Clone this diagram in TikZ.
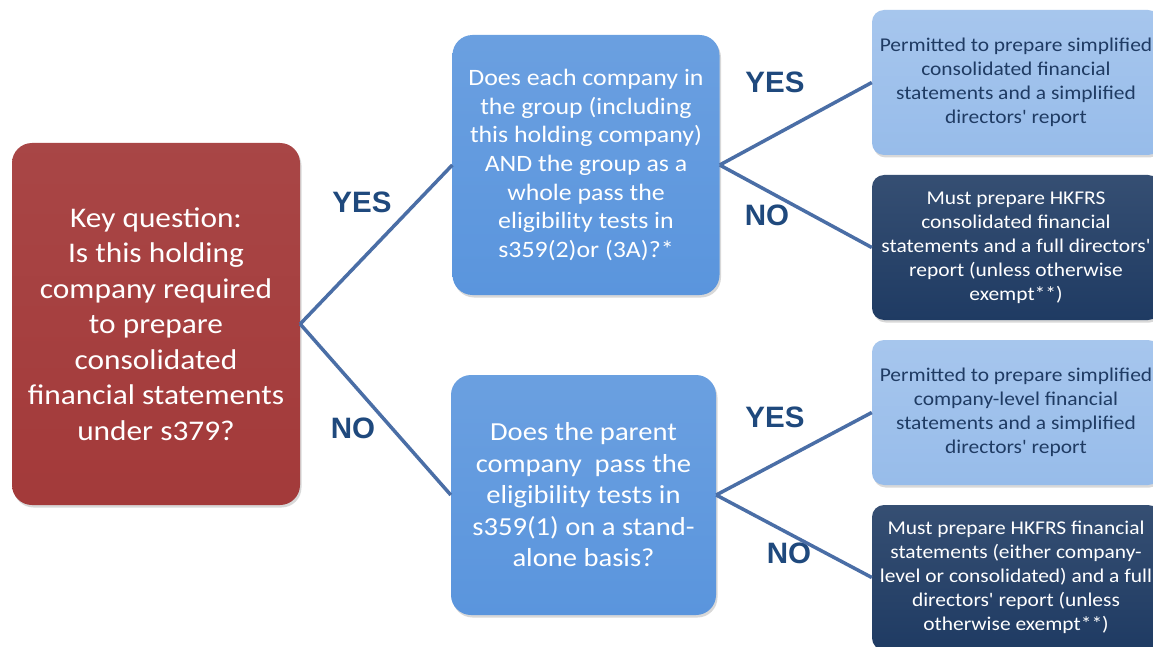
\documentclass[tikz,border=0pt]{standalone}
\usepackage{fontspec}
\setmainfont[FakeStretch=1.1,Ligatures=TeXOff]{Carlito}
\newfontfamily\yesnofont{Liberation Sans}
\usetikzlibrary{shadows}
\definecolor{keyred}{HTML}{A33A3A}
\definecolor{askblue}{HTML}{5A95DD}
\definecolor{okblue}{HTML}{97BCEA}
\definecolor{mustnavy}{HTML}{1F3B63}
\definecolor{linkblue}{HTML}{4A6EA6}
\definecolor{ynblue}{HTML}{1F497D}
\begin{document}
\begin{tikzpicture}[x=1pt,y=-1pt,
  box/.style={rectangle, draw=none, align=center, inner sep=0pt,
    drop shadow={shadow xshift=1.5pt, shadow yshift=-2.5pt, opacity=0.3}},
  keybox/.style={box, rounded corners=20pt, top color=keyred!94!white, bottom color=keyred, text=white,
    minimum width=288pt, minimum height=362pt, font=\fontsize{28.5}{35.5}\selectfont},
  askbox/.style={box, rounded corners=20pt, top color=askblue!90!white, bottom color=askblue, text=white,
    minimum width=267pt},
  okbox/.style={box, rounded corners=12pt, top color=okblue!85!white, bottom color=okblue, text=mustnavy,
    minimum width=288pt, minimum height=145pt, font=\fontsize{19.5}{24}\selectfont},
  mustbox/.style={box, rounded corners=12pt, top color=mustnavy!90!white, bottom color=mustnavy, text=white,
    minimum width=288pt, minimum height=145pt, font=\fontsize{19.5}{24}\selectfont},
  yn/.style={text=ynblue, font=\yesnofont\bfseries\fontsize{29.5}{31}\selectfont},
  link/.style={draw=linkblue, line width=3.5pt}]
\useasboundingbox[fill=white] (0,0) rectangle (1153,647);
%\draw[help lines, step=50pt] (0,0) grid (1153,647);
\node[keybox](key) at (156,324) {Key question:\\Is this holding\\company required\\to prepare\\consolidated\\financial statements\\under s379?};
\node[askbox, minimum height=260pt, font=\fontsize{23.5}{28.7}\selectfont](q1) at (586,165) {Does each company in\\the group (including\\this holding company)\\AND the group as a\\whole pass the\\eligibility tests in\\s359(2)or (3A)?*};
\node[askbox, minimum width=265pt, minimum height=240pt, font=\fontsize{26}{31.5}\selectfont](q2) at (583.5,495) {Does the parent\\company~ pass the\\eligibility tests in\\s359(1) on a stand-\\alone basis?};
\node[okbox](r1) at (1016,82.5) {Permitted to prepare simplified\\consolidated financial\\statements and a simplified\\directors' report};
\node[mustbox](r2) at (1016,247.5) {Must prepare HKFRS\\consolidated financial\\statements and a full directors'\\report (unless otherwise\\exempt**)};
\node[okbox](r3) at (1016,412.5) {Permitted to prepare simplified\\company-level financial\\statements and a simplified\\directors' report};
\node[mustbox](r4) at (1016,577.5) {Must prepare HKFRS financial\\statements (either company-\\level or consolidated) and a full\\directors' report (unless\\otherwise exempt**)};

\node[yn](yes1) at (362,202) {YES};
\node[yn](no1) at (353,428) {NO};
\node[yn](yes2) at (775,82) {YES};
\node[yn](no2) at (767,215) {NO};
\node[yn](yes3) at (775,417) {YES};
\node[yn](no3) at (789,553) {NO};

\draw[link](key.east)--(q1.west);
\draw[link](key.east)--(q2.west);
\draw[link](q1.east)--(r1.west);
\draw[link](q1.east)--(r2.west);
\draw[link](q2.east)--(r3.west);
\draw[link](q2.east)--(r4.west);
\end{tikzpicture}
\end{document}
